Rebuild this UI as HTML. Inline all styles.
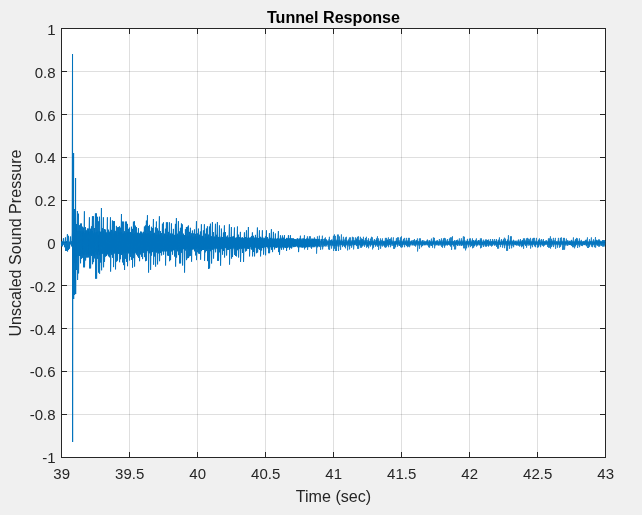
<!DOCTYPE html>
<html><head><meta charset="utf-8"><title>Tunnel Response</title>
<style>
html,body{margin:0;padding:0;background:#f0f0f0;overflow:hidden}
svg{display:block;font-family:"Liberation Sans",Arial,Helvetica,sans-serif}
.tk{font-size:15.0px;fill:#262626}
.lb{font-size:16.13px;fill:#262626}
.tt{font-size:16.13px;font-weight:bold;fill:#000}
</style></head><body>
<svg width="642" height="515" viewBox="0 0 642 515">
<rect x="0" y="0" width="642" height="515" fill="#f0f0f0"/>
<rect x="61.5" y="28.5" width="544.0" height="429.0" fill="#fff"/>
<path d="M129.5 28.5V457.5M197.5 28.5V457.5M265.5 28.5V457.5M333.5 28.5V457.5M401.5 28.5V457.5M469.5 28.5V457.5M537.5 28.5V457.5" stroke="#262626" stroke-opacity="0.15" stroke-width="1" fill="none" shape-rendering="crispEdges"/>
<path d="M61.5 71.5H605.5M61.5 114.5H605.5M61.5 157.5H605.5M61.5 200.5H605.5M61.5 242.5H605.5M61.5 285.5H605.5M61.5 328.5H605.5M61.5 371.5H605.5M61.5 414.5H605.5" stroke="#262626" stroke-opacity="0.15" stroke-width="1" fill="none" shape-rendering="crispEdges"/>
<path d="M129.5 457.5v-5.5M129.5 28.5v5.5M197.5 457.5v-5.5M197.5 28.5v5.5M265.5 457.5v-5.5M265.5 28.5v5.5M333.5 457.5v-5.5M333.5 28.5v5.5M401.5 457.5v-5.5M401.5 28.5v5.5M469.5 457.5v-5.5M469.5 28.5v5.5M537.5 457.5v-5.5M537.5 28.5v5.5M61.5 71.5h5.5M605.5 71.5h-5.5M61.5 114.5h5.5M605.5 114.5h-5.5M61.5 157.5h5.5M605.5 157.5h-5.5M61.5 200.5h5.5M605.5 200.5h-5.5M61.5 242.5h5.5M605.5 242.5h-5.5M61.5 285.5h5.5M605.5 285.5h-5.5M61.5 328.5h5.5M605.5 328.5h-5.5M61.5 371.5h5.5M605.5 371.5h-5.5M61.5 414.5h5.5M605.5 414.5h-5.5" stroke="#262626" stroke-width="1" fill="none" shape-rendering="crispEdges"/>
<rect x="61.5" y="28.5" width="544.0" height="429.0" fill="none" stroke="#262626" stroke-width="1" shape-rendering="crispEdges"/>
<path d="M61.50 241.4L61.58 246.2L62.46 241.4L62.54 246.3L63.47 238.2L63.53 244.7L64.42 241.6L64.56 247.2L65.45 237.4L65.56 250.9L66.43 241.1L66.54 250.9L67.41 234.2L67.55 251.5L68.45 235.8L68.53 249.9L69.47 241.7L69.53 248.7L70.44 236.5L70.56 244.4L71.45 241.3L71.59 246.4L72.15 233.0L72.50 54.0L72.60 442.0L72.80 231.0L72.95 258.0L73.20 213.0L73.35 273.0L73.55 153.0L73.65 299.0L73.85 218.0L73.95 263.0L74.45 209.0L74.58 295.0L75.20 228.0L75.35 283.0L75.55 178.0L75.65 294.0L75.85 228.0L75.95 263.0L76.47 224.0L76.55 270.0L77.41 211.0L77.58 280.0L78.44 213.7L78.56 273.4L79.45 225.2L79.55 256.0L80.46 223.6L80.54 263.3L81.45 223.5L81.56 258.8L82.43 226.7L82.54 257.8L83.44 227.6L83.54 267.3L84.41 211.3L84.54 267.3L85.45 227.1L85.59 260.5L86.44 230.3L86.54 257.5L87.42 228.5L87.59 257.5L88.45 228.6L88.55 257.4L89.43 217.3L89.54 268.4L90.46 228.7L90.58 268.4L91.46 226.3L91.56 256.0L92.46 216.2L92.57 264.2L93.43 216.2L93.56 262.1L94.46 228.0L94.54 258.4L95.44 213.4L95.54 278.7L96.46 213.4L96.59 278.7L97.41 216.8L97.57 258.8L98.42 221.3L98.56 272.6L99.44 216.7L99.58 273.8L100.43 232.0L100.56 262.5L101.45 208.0L101.58 270.3L102.46 228.2L102.58 253.6L103.42 217.3L103.56 267.3L104.46 229.0L104.53 261.9L105.44 229.6L105.57 256.7L106.45 232.5L106.58 256.0L107.42 217.3L107.54 254.4L108.46 229.7L108.54 256.3L109.45 232.5L109.54 257.3L110.47 217.3L110.58 271.6L111.43 229.9L111.57 254.8L112.43 220.5L112.56 257.8L113.42 221.2L113.55 267.1L114.46 221.1L114.57 253.5L115.42 230.9L115.53 269.4L116.42 225.9L116.58 261.7L117.45 227.3L117.53 260.6L118.47 227.0L118.57 253.9L119.46 226.3L119.59 262.2L120.47 227.7L120.54 259.2L121.47 214.0L121.55 255.0L122.43 221.6L122.55 262.4L123.41 221.6L123.57 265.1L124.45 231.2L124.55 270.0L125.41 221.6L125.54 258.8L126.47 221.6L126.56 261.9L127.43 223.9L127.53 266.2L128.43 228.9L128.54 252.9L129.45 227.6L129.56 260.5L130.45 232.1L130.56 256.8L131.46 226.7L131.58 259.8L132.42 228.9L132.53 267.7L133.44 221.7L133.57 258.1L134.43 221.2L134.56 266.6L135.43 225.7L135.53 251.8L136.46 227.1L136.53 254.6L137.45 232.9L137.55 256.3L138.44 228.2L138.56 257.9L139.43 234.3L139.56 261.2L140.47 231.6L140.59 254.5L141.43 231.7L141.58 256.8L142.42 234.6L142.58 259.1L143.41 231.8L143.53 252.4L144.43 226.5L144.58 257.1L145.47 225.4L145.54 261.2L146.41 220.6L146.55 260.7L147.46 215.2L147.55 251.1L148.47 226.1L148.56 272.6L149.46 224.9L149.59 253.3L150.44 230.9L150.58 269.9L151.44 226.8L151.55 255.6L152.44 228.1L152.57 252.1L153.44 219.0L153.58 264.7L154.44 232.8L154.54 256.5L155.43 227.4L155.58 266.6L156.43 221.5L156.58 252.6L157.45 228.4L157.56 264.4L158.45 230.7L158.56 253.4L159.42 216.3L159.56 261.2L160.47 231.1L160.59 253.0L161.42 233.0L161.59 255.4L162.44 223.7L162.53 251.4L163.47 222.3L163.57 254.7L164.43 233.6L164.54 250.5L165.43 228.7L165.55 265.5L166.41 222.3L166.55 251.2L167.46 222.3L167.57 255.5L168.45 231.9L168.57 255.9L169.42 222.3L169.58 261.2L170.47 233.5L170.55 260.1L171.46 223.4L171.55 250.9L172.47 233.7L172.54 254.7L173.42 228.9L173.56 250.3L174.42 234.9L174.57 256.5L175.46 223.9L175.59 266.6L176.41 218.1L176.56 257.6L177.42 233.7L177.57 251.3L178.43 221.2L178.57 255.1L179.41 231.4L179.53 263.4L180.45 227.8L180.58 263.4L181.45 223.4L181.57 252.8L182.41 224.4L182.58 265.5L183.44 233.7L183.59 249.1L184.46 235.1L184.54 272.6L185.43 229.2L185.55 250.5L186.43 227.0L186.54 260.1L187.46 226.7L187.59 258.3L188.44 225.5L188.57 258.0L189.46 231.9L189.55 256.3L190.42 227.8L190.54 255.8L191.41 233.3L191.55 261.7L192.42 230.5L192.56 249.1L193.42 233.4L193.54 248.8L194.44 229.4L194.54 251.3L195.41 233.9L195.55 255.4L196.47 221.2L196.53 260.1L197.42 233.4L197.55 252.2L198.45 228.6L198.54 253.5L199.44 234.7L199.53 253.8L200.41 231.5L200.58 259.7L201.42 224.3L201.53 251.1L202.46 235.9L202.54 250.0L203.42 230.4L203.55 249.9L204.42 224.3L204.56 260.8L205.43 233.7L205.57 252.3L206.45 228.5L206.57 251.0L207.43 226.3L207.54 261.1L208.46 234.6L208.58 269.0L209.43 226.5L209.56 268.4L210.44 223.7L210.56 251.2L211.42 236.3L211.58 263.5L212.43 222.1L212.53 249.7L213.41 232.1L213.54 258.6L214.41 237.0L214.53 248.1L215.47 223.8L215.58 252.3L216.42 234.8L216.58 248.0L217.42 222.1L217.56 260.8L218.43 237.6L218.53 260.8L219.46 225.4L219.54 252.3L220.47 238.0L220.56 265.7L221.43 228.6L221.59 248.5L222.43 237.1L222.56 254.7L223.45 232.5L223.54 251.0L224.44 225.4L224.55 257.5L225.44 232.0L225.55 247.5L226.43 236.7L226.58 255.5L227.41 235.5L227.54 249.9L228.45 237.7L228.56 249.9L229.42 224.3L229.53 264.6L230.45 237.0L230.57 249.0L231.43 227.0L231.56 258.6L232.43 236.6L232.53 257.0L233.41 236.2L233.57 247.1L234.46 227.5L234.59 254.9L235.43 238.1L235.59 256.0L236.43 238.7L236.54 256.4L237.46 226.5L237.55 250.2L238.46 234.7L238.57 257.5L239.43 237.7L239.57 248.8L240.41 231.9L240.54 261.9L241.42 238.7L241.57 248.8L242.46 237.4L242.58 253.0L243.42 239.0L243.54 261.9L244.44 232.4L244.54 248.3L245.43 237.3L245.59 251.5L246.46 230.3L246.57 250.8L247.45 237.8L247.56 248.7L248.42 227.0L248.53 248.7L249.43 237.9L249.54 256.4L250.43 237.4L250.54 246.6L251.46 236.1L251.57 249.6L252.43 232.4L252.55 256.4L253.42 235.8L253.55 252.0L254.47 238.2L254.54 256.4L255.46 234.9L255.56 246.4L256.45 238.8L256.55 253.2L257.43 227.5L257.58 252.5L258.42 238.1L258.55 248.8L259.47 230.3L259.54 249.9L260.44 236.8L260.54 256.4L261.43 239.6L261.58 250.5L262.41 230.3L262.55 247.4L263.45 239.9L263.57 254.6L264.44 238.3L264.55 246.6L265.46 236.4L265.57 255.3L266.44 230.3L266.57 246.6L267.43 237.0L267.56 246.4L268.45 240.0L268.59 253.2L269.45 233.1L269.56 253.2L270.47 238.2L270.54 246.8L271.43 229.2L271.55 249.8L272.44 239.1L272.54 252.1L273.44 231.9L273.54 246.7L274.43 240.1L274.57 249.4L275.43 233.5L275.58 246.4L276.41 239.5L276.57 248.0L277.45 239.2L277.55 246.7L278.41 231.1L278.58 252.1L279.45 238.7L279.53 254.8L280.46 235.3L280.54 246.1L281.45 238.8L281.58 249.8L282.45 235.5L282.54 247.0L283.44 237.7L283.54 249.5L284.46 235.2L284.56 246.5L285.42 239.2L285.55 247.9L286.46 237.9L286.54 251.0L287.43 239.1L287.58 247.2L288.44 235.2L288.56 246.3L289.44 239.0L289.55 249.6L290.43 235.2L290.55 247.3L291.45 239.5L291.58 248.5L292.45 239.1L292.57 245.3L293.41 239.0L293.57 246.8L294.46 239.8L294.57 246.6L295.42 239.5L295.53 246.2L296.46 239.9L296.58 246.1L297.44 239.6L297.55 246.6L298.45 239.8L298.56 252.1L299.42 238.8L299.53 246.6L300.43 235.7" stroke="#0072bd" stroke-width="0.9" stroke-linejoin="bevel" fill="none"/>
<path d="M300.43 235.7L300.57 246.4L301.45 240.7L301.58 245.6L302.43 240.9L302.57 247.4L303.44 238.6L303.54 245.1L304.47 235.2L304.54 249.4L305.43 240.2L305.53 245.7L306.45 239.9L306.55 246.9L307.43 236.3L307.57 249.9L308.43 239.7L308.56 245.3L309.46 236.3L309.58 247.0L310.43 236.3L310.54 245.7L311.43 239.9L311.53 248.8L312.44 238.8L312.54 245.7L313.44 240.1L313.57 247.2L314.43 237.4L314.56 245.0L315.46 240.5L315.55 246.2L316.43 239.1L316.56 253.7L317.43 236.3L317.58 247.4L318.46 240.0L318.55 245.8L319.41 235.7L319.55 245.2L320.47 240.7L320.57 249.9L321.44 239.2L321.54 244.7L322.42 235.7L322.59 249.4L323.46 241.4L323.57 244.6L324.45 238.5L324.55 245.8L325.43 237.4L325.55 245.4L326.44 239.5L326.58 245.5L327.46 241.4L327.59 244.5L328.44 241.1L328.55 249.4L329.42 236.8L329.55 249.9L330.46 240.8L330.55 244.9L331.43 239.8L331.54 248.6L332.46 241.1L332.54 244.9L333.47 235.8L333.59 251.0L334.46 234.4L334.59 248.7L335.44 235.9L335.56 251.0L336.43 240.8L336.53 251.0L337.46 234.6L337.56 244.5L338.42 234.6L338.53 251.0L339.45 236.4L339.57 244.4L340.41 241.3L340.57 249.9L341.43 234.4L341.58 244.8L342.46 241.4L342.55 247.1L343.42 236.8L343.55 244.9L344.43 241.9L344.54 247.1L345.43 237.5L345.54 248.3L346.41 236.8L346.59 244.5L347.43 241.7L347.58 250.4L348.44 239.5L348.57 244.3L349.43 237.5L349.56 249.4L350.42 237.4L350.58 244.8L351.42 241.7L351.58 247.8L352.43 236.8L352.59 244.4L353.43 237.4L353.58 249.4L354.46 241.2L354.53 245.0L355.43 237.4L355.56 244.3L356.47 238.6L356.58 246.1L357.46 236.8L357.58 248.8L358.46 236.3L358.57 248.8L359.43 241.4L359.56 244.8L360.43 236.8L360.57 247.7L361.44 238.4L361.56 247.7L362.43 239.0L362.57 246.4L363.45 236.8L363.54 244.3L364.41 241.6L364.55 246.8L365.46 238.0L365.54 244.4L366.43 236.8L366.58 247.7L367.45 241.9L367.56 246.7L368.47 238.3L368.57 248.3L369.46 241.6L369.56 244.1L370.46 238.7L370.53 246.6L371.47 236.8L371.56 244.5L372.46 237.4L372.57 249.4L373.45 241.6L373.55 247.7L374.44 239.0L374.54 244.3L375.43 241.9L375.58 246.7L376.46 238.4L376.59 244.8L377.47 236.3L377.58 246.8L378.43 238.4L378.55 249.9L379.43 241.7L379.56 244.5L380.47 238.4L380.56 248.8L381.43 241.5L381.55 244.2L382.45 238.4L382.55 246.5L383.46 241.3L383.54 244.7L384.43 241.7L384.59 247.2L385.41 237.9L385.53 247.7L386.43 237.9L386.54 247.2L387.44 239.6L387.55 244.5L388.42 237.4L388.58 247.2L389.46 239.0L389.53 244.3L390.45 238.7L390.55 247.2L391.43 237.4L391.56 244.1L392.41 242.0L392.54 244.4L393.42 237.4L393.57 248.8L394.44 242.1L394.55 248.8L395.43 241.3L395.58 247.3L396.42 238.2L396.59 244.0L397.44 237.4L397.55 246.7L398.46 237.4L398.55 243.9L399.45 242.0L399.55 245.9L400.45 237.4L400.54 247.2L401.44 236.3L401.56 247.7L402.42 241.9L402.55 247.2L403.46 238.9L403.57 244.2L404.45 237.9L404.55 247.2L405.44 241.7L405.55 244.5L406.41 237.9L406.57 246.1L407.42 241.6L407.58 247.2L408.41 237.9L408.55 246.5L409.42 237.9L409.57 247.2L410.42 241.9L410.55 244.4L411.47 240.8L411.55 243.9L412.43 242.1L412.57 245.1L413.44 240.3L413.54 244.4L414.47 239.0L414.54 245.7L415.47 241.7L415.57 246.6L416.45 240.1L416.55 244.1L417.44 238.4L417.55 251.5L418.45 241.8L418.54 244.2L419.46 238.4L419.53 248.8L420.44 238.4L420.59 244.4L421.42 241.8L421.55 247.2L422.42 240.3L422.54 245.8L423.46 241.8L423.54 244.1L424.45 241.5L424.56 245.2L425.42 241.6L425.53 244.6L426.43 241.5L426.56 244.2L427.41 239.5L427.59 245.4L428.42 242.1L428.56 247.2L429.43 240.2L429.54 247.7L430.42 241.7L430.53 244.3L431.46 238.6L431.58 245.9L432.43 241.9L432.55 247.7L433.41 237.4L433.54 244.1L434.47 237.9L434.56 248.3L435.45 242.0L435.54 244.3L436.42 240.6L436.57 244.9L437.43 240.2L437.57 244.4L438.43 241.9L438.53 245.6L439.42 239.0L439.55 244.3L440.46 241.5L440.53 244.5L441.47 238.4L441.56 246.8L442.46 241.9L442.54 247.7L443.44 238.4L443.59 244.3L444.44 237.9L444.55 247.7L445.42 238.4L445.58 245.4L446.42 242.0L446.56 244.4L447.46 239.0L447.54 245.4L448.46 241.8L448.55 244.5L449.46 238.5L449.53 245.4L450.43 237.4L450.53 246.6L451.43 237.4L451.57 249.9L452.47 236.3L452.58 244.5L453.42 241.6L453.55 246.4L454.46 240.1L454.55 249.4L455.47 241.9L455.57 249.4L456.46 240.2L456.56 244.4L457.45 239.7L457.55 246.0L458.47 241.6L458.56 244.2L459.42 238.4L459.58 245.3L460.42 241.9L460.59 244.0L461.42 238.3L461.58 246.0L462.43 241.9L462.56 244.5L463.42 236.3L463.58 248.3L464.45 236.8L464.54 248.3L465.44 242.1L465.56 250.4L466.46 241.4L466.58 248.3L467.45 238.9L467.55 244.0L468.43 241.6L468.57 247.3L469.47 238.6L469.54 244.2L470.44 238.4L470.56 247.1L471.45 242.0L471.56 246.0L472.47 238.4L472.57 248.3L473.43 240.2L473.58 247.7L474.46 241.5L474.56 246.2L475.44 239.9L475.58 243.9L476.42 238.4L476.57 246.6L477.41 241.7L477.55 245.4L478.46 240.0L478.53 243.9L479.42 241.7L479.57 245.4L480.43 238.4L480.56 248.3L481.47 238.4L481.56 247.7L482.42 242.1L482.54 244.4L483.44 239.7L483.57 247.0L484.46 241.7L484.58 244.1L485.44 239.5L485.55 246.6L486.43 239.5L486.56 246.6L487.46 240.2L487.54 243.9L488.42 239.5L488.56 246.6L489.46 241.6L489.58 244.3L490.44 239.0L490.58 245.7L491.42 241.5L491.58 246.6L492.46 239.0L492.58 245.8L493.41 241.9L493.53 244.1L494.43 239.0L494.56 245.5L495.46 241.5L495.58 244.5L496.42 239.0L496.53 246.9L497.42 242.0L497.53 248.6L498.46 239.7L498.58 248.6L499.46 237.4L499.54 244.5L500.46 242.1L500.56 247.1L501.47 239.1L501.53 244.3L502.42 241.6L502.57 247.7L503.46 239.3L503.54 243.9L504.42 237.7L504.57 248.2L505.47 238.7L505.53 243.9L506.43 241.5L506.54 250.8L507.44 239.5L507.55 250.8L508.45 235.2L508.57 244.1L509.44 241.8L509.56 248.8L510.46 236.3L510.58 243.9L511.45 236.3L511.59 248.3L512.42 241.7L512.57 244.0L513.45 239.8L513.56 247.2L514.45 241.8L514.59 244.2L515.47 240.8L515.55 245.1L516.43 241.6L516.58 245.4L517.47 241.9L517.56 244.3L518.45 239.5L518.54 245.7L519.43 242.0L519.58 246.6L520.43 239.0L520.55 243.9L521.45 241.8L521.55 247.2L522.41 240.0L522.54 246.3L523.45 238.4L523.56 248.8L524.44 238.4L524.53 244.0L525.46 241.6L525.54 246.0L526.42 238.4L526.56 247.7L527.45 237.9L527.55 244.3L528.42 238.7L528.58 244.2L529.45 239.4L529.55 244.5L530.46 237.9L530.55 248.6L531.45 241.8L531.56 244.4L532.42 238.6L532.53 247.2L533.45 237.9L533.55 243.9L534.46 237.9L534.54 246.3L535.44 242.1L535.58 247.2L536.44 237.9L536.53 244.2L537.46 241.9L537.58 247.7L538.47 239.7L538.55 247.2L539.44 238.4L539.56 244.1L540.46 242.1L540.58 247.2L541.41 239.0L541.56 244.0L542.42 241.8L542.59 245.8L543.41 239.0L543.53 246.6L544.42 241.6L544.54 245.5L545.41 241.7L545.56 244.4L546.41 240.4L546.57 243.9L547.44 242.0L547.54 246.9L548.44 238.4L548.54 247.7L549.43 238.4L549.57 247.7L550.45 236.3L550.54 248.6L551.46 238.8L551.58 247.0L552.47 241.6L552.57 244.0L553.42 237.9L553.55 247.1L554.43 241.7L554.55 243.9L555.42 237.9L555.59 248.8L556.46 241.5L556.56 244.0L557.46 242.1L557.57 247.7L558.43 237.9L558.58 243.9L559.44 242.0L559.54 247.7L560.41 237.9L560.55 246.8L561.42 237.4L561.58 244.0L562.45 241.6L562.54 249.9L563.44 237.9L563.53 249.7L564.45 237.9L564.54 249.7L565.42 241.9L565.59 244.3L566.42 238.6L566.58 244.2L567.42 240.4L567.56 245.8L568.46 241.9L568.57 244.1L569.46 241.1L569.57 245.0L570.44 241.6L570.57 245.0L571.42 239.9L571.58 245.8L572.45 241.6L572.59 247.2L573.45 237.4L573.57 247.2L574.41 241.9L574.59 248.3L575.46 239.1L575.58 246.4L576.47 237.9L576.58 244.5L577.44 238.4L577.58 248.0L578.46 241.6L578.54 244.0L579.46 238.4L579.56 247.2L580.45 241.8L580.58 244.3L581.41 239.9L581.58 245.9L582.42 241.6L582.56 246.1L583.45 241.4L583.55 244.3L584.45 241.6L584.58 245.1L585.44 239.9L585.53 244.4L586.43 239.7L586.54 246.3L587.46 237.4L587.57 248.0L588.45 242.1L588.56 248.0L589.46 239.2L589.54 246.8L590.44 241.5L590.59 244.0L591.43 237.4L591.53 246.6L592.44 242.1L592.57 247.2L593.47 239.3L593.58 244.4L594.43 242.1L594.55 247.2L595.47 237.1L595.58 247.7L596.46 239.8L596.58 244.3L597.41 240.5L597.55 245.7L598.47 239.5L598.58 246.6L599.45 239.5L599.56 246.6L600.43 241.0L600.56 244.3L601.47 241.5L601.57 245.9L602.42 240.1L602.56 246.6L603.46 240.1L603.54 246.6L604.43 240.1L604.56 246.6" stroke="#0072bd" stroke-width="0.7" stroke-linejoin="bevel" fill="none"/>
<path d="M76.12 231.3L76.38 255.8L76.62 231.8L76.88 256.1L77.12 230.9L77.38 253.1L77.62 231.3L77.88 252.7L78.12 230.4L78.38 253.6L78.62 231.7L78.88 255.8L79.12 232.8L79.38 254.6L79.62 233.0L79.88 252.8L80.12 230.9L80.38 253.5L80.62 234.2L80.88 255.7L81.12 231.8L81.38 253.6L81.62 232.8L81.88 252.0L82.12 230.6L82.38 251.5L82.62 233.4L82.88 253.8L83.12 231.7L83.38 255.2L83.62 232.8L83.88 251.6L84.12 233.0L84.38 254.6L84.62 233.0L84.88 255.0L85.12 230.9L85.38 251.7L85.62 232.7L85.88 251.2L86.12 232.4L86.38 254.2L86.62 233.4L86.88 253.9L87.12 233.2L87.38 254.2L87.62 230.8L87.88 254.2L88.12 234.5L88.38 253.9L88.62 231.1L88.88 254.9L89.12 231.7L89.38 255.3L89.62 234.2L89.88 251.9L90.12 231.6L90.38 254.4L90.62 234.4L90.88 252.9L91.12 231.1L91.38 254.6L91.62 231.1L91.88 252.8L92.12 232.7L92.38 252.5L92.62 231.1L92.88 254.2L93.12 234.4L93.38 254.3L93.62 233.2L93.88 255.2L94.12 233.8L94.38 251.9L94.62 232.0L94.88 255.1L95.12 234.8L95.38 250.9L95.62 232.5L95.88 252.0L96.12 233.2L96.38 251.8L96.62 231.8L96.88 254.4L97.12 232.1L97.38 254.7L97.62 234.5L97.88 251.9L98.12 231.4L98.38 251.9L98.62 234.6L98.88 252.1L99.12 235.0L99.38 255.1L99.62 231.0L99.88 252.5L100.12 233.9L100.38 253.7L100.62 232.0L100.88 252.5L101.12 231.3L101.38 253.9L101.62 231.8L101.88 253.4L102.12 233.0L102.38 253.4L102.62 231.3L102.88 252.1L103.12 233.7L103.38 253.2L103.62 231.4L103.88 251.0L104.12 235.2L104.38 252.9L104.62 234.8L104.88 254.9L105.12 234.4L105.38 252.6L105.62 232.5L105.88 252.6L106.12 233.2L106.38 254.9L106.62 232.8L106.88 253.2L107.12 235.3L107.38 252.9L107.62 233.4L107.88 252.7L108.12 234.2L108.38 254.6L108.62 231.3L108.88 252.9L109.12 234.5L109.38 252.9L109.62 232.5L109.88 251.8L110.12 231.3L110.38 253.0L110.62 232.4L110.88 251.5L111.12 236.9L111.38 254.0L111.62 236.9L111.88 252.1L112.12 231.5L112.38 251.6L112.62 235.2L112.88 250.9L113.12 233.9L113.38 254.5L113.62 233.8L113.88 253.3L114.12 231.8L114.38 250.6L114.62 234.0L114.88 252.7L115.12 232.8L115.38 251.5L115.62 232.9L115.88 252.8L116.12 233.8L116.38 254.4L116.62 231.9L116.88 253.0L117.12 234.9L117.38 252.9L117.62 235.2L117.88 251.0L118.12 232.5L118.38 250.6L118.62 231.9L118.88 250.4L119.12 232.5L119.38 253.6L119.62 232.6L119.88 253.5L120.12 234.9L120.38 253.4L120.62 232.3L120.88 251.5L121.12 232.5L121.38 250.3L121.62 232.7L121.88 252.8L122.12 235.7L122.38 251.7L122.62 234.1L122.88 253.6L123.12 233.2L123.38 253.2L123.62 233.6L123.88 252.5L124.12 233.3L124.38 252.5L124.62 234.6L124.88 251.6L125.12 235.4L125.38 253.1L125.62 233.1L125.88 251.8L126.12 235.8L126.38 253.0L126.62 232.8L126.88 251.5L127.12 232.5L127.38 251.5L127.62 232.3L127.88 252.0L128.12 235.6L128.38 251.4L128.62 234.7L128.88 253.7L129.12 232.1L129.38 253.4L129.62 233.9L129.88 251.0L130.12 234.4L130.38 251.4L130.62 233.4L130.88 253.8L131.12 235.3L131.38 251.1L131.62 232.8L131.88 252.0L132.12 233.0L132.38 252.8L132.62 235.4L132.88 253.5L133.12 234.4L133.38 250.4L133.62 235.7L133.88 252.8L134.12 234.1L134.38 250.0L134.62 233.0L134.88 253.7L135.12 235.8L135.38 252.9L135.62 235.4L135.88 252.1L136.12 232.7L136.38 253.1L136.62 234.9L136.88 252.0L137.12 234.5L137.38 252.7L137.62 232.8L137.88 249.8L138.12 235.5L138.38 251.1L138.62 232.9L138.88 250.1L139.12 233.0L139.38 253.3L139.62 234.6L139.88 251.9L140.12 232.9L140.38 252.3L140.62 232.9L140.88 252.5L141.12 234.2L141.38 252.3L141.62 233.1L141.88 250.3L142.12 234.0L142.38 252.8L142.62 232.7L142.88 252.3L143.12 234.7L143.38 252.8L143.62 234.2L143.88 250.0L144.12 234.6L144.38 250.9L144.62 233.9L144.88 252.5L145.12 233.2L145.38 249.5L145.62 234.4L145.88 252.2L146.12 235.7L146.38 252.2L146.62 234.2L146.88 250.3L147.12 233.3L147.38 250.1L147.62 236.6L147.88 251.1L148.12 235.2L148.38 252.8L148.62 233.1L148.88 252.2L149.12 236.5L149.38 251.3L149.62 234.6L149.88 250.8L150.12 236.6L150.38 251.0L150.62 235.0L150.88 252.7L151.12 234.0L151.38 252.4L151.62 236.4L151.88 249.8L152.12 234.9L152.38 251.4L152.62 235.6L152.88 251.0L153.12 233.4L153.38 250.5L153.62 233.7L153.88 249.5L154.12 236.7L154.38 251.4L154.62 236.5L154.88 251.1L155.12 234.7L155.38 251.9L155.62 235.0L155.88 251.6L156.12 234.6L156.38 251.2L156.62 235.3L156.88 251.4L157.12 235.0L157.38 249.8L157.62 236.3L157.88 250.8L158.12 234.1L158.38 249.7L158.62 234.5L158.88 251.6L159.12 234.7L159.38 252.3L159.62 234.9L159.88 249.3L160.12 235.3L160.38 251.3L160.62 236.8L160.88 249.8L161.12 234.1L161.38 252.2L161.62 236.8L161.88 249.8L162.12 236.1L162.38 249.9L162.62 235.5L162.88 250.8L163.12 236.0L163.38 249.5L163.62 236.9L163.88 249.0L164.12 234.9L164.38 251.4L164.62 236.5L164.88 250.1L165.12 234.0L165.38 251.8L165.62 235.3L165.88 249.5L166.12 234.8L166.38 251.2L166.62 237.0L166.88 248.8L167.12 237.1L167.38 251.1L167.62 235.1L167.88 249.1L168.12 234.4L168.38 251.3L168.62 237.2L168.88 250.7L169.12 236.4L169.38 249.5L169.62 236.9L169.88 251.2L170.12 234.7L170.38 248.7L170.62 236.2L170.88 249.1L171.12 236.9L171.38 251.6L171.62 235.3L171.88 250.1L172.12 235.5L172.38 250.9L172.62 235.1L172.88 249.6L173.12 235.0L173.38 248.5L173.62 235.8L173.88 249.6L174.12 235.8L174.38 249.6L174.62 235.0L174.88 248.5L175.12 235.2L175.38 249.2L175.62 236.5L175.88 248.7L176.12 237.1L176.38 248.5L176.62 235.0L176.88 249.7L177.12 236.6L177.38 248.6L177.62 237.3L177.88 249.8L178.12 237.0L178.38 248.5L178.62 235.7L178.88 249.1L179.12 234.9L179.38 251.1L179.62 236.1L179.88 250.6L180.12 235.9L180.38 250.2L180.62 237.1L180.88 250.5L181.12 235.1L181.38 250.3L181.62 236.5L181.88 248.6L182.12 235.0L182.38 250.0L182.62 236.0L182.88 248.7L183.12 235.1L183.38 249.0L183.62 236.7L183.88 249.1L184.12 235.1L184.38 248.4L184.62 235.4L184.88 250.0L185.12 236.1L185.38 250.0L185.62 235.8L185.88 248.5L186.12 237.8L186.38 248.2L186.62 236.8L186.88 248.3L187.12 235.9L187.38 249.5L187.62 237.8L187.88 248.2L188.12 236.4L188.38 250.0L188.62 236.2L188.88 249.4L189.12 235.6L189.38 250.5L189.62 236.8L189.88 250.5L190.12 237.4L190.38 249.0L190.62 236.1L190.88 248.4L191.12 235.4L191.38 250.3L191.62 235.7L191.88 249.1L192.12 237.3L192.38 248.4L192.62 237.1L192.88 250.0L193.12 237.9L193.38 248.4L193.62 237.2L193.88 248.7L194.12 236.5L194.38 250.1L194.62 238.0L194.88 248.0L195.12 236.2L195.38 249.5L195.62 237.4L195.88 248.4L196.12 238.2L196.38 249.0L196.62 236.1L196.88 247.8L197.12 237.7L197.38 247.9L197.62 236.8L197.88 247.8L198.12 237.6L198.38 248.3L198.62 235.9L198.88 250.1L199.12 237.5L199.38 249.0L199.62 238.0L199.88 248.6L200.12 236.5L200.38 248.5L200.62 238.0L200.88 249.3L201.12 236.2L201.38 249.9L201.62 238.0L201.88 249.5L202.12 236.1L202.38 247.6L202.62 236.8L202.88 249.8L203.12 236.5L203.38 249.7L203.62 237.9L203.88 249.8L204.12 237.8L204.38 247.5L204.62 238.3L204.88 248.5L205.12 237.6L205.38 248.2L205.62 237.3L205.88 248.7L206.12 238.3L206.38 248.9L206.62 237.3L206.88 248.5L207.12 237.3L207.38 249.8L207.62 236.2L207.88 248.5L208.12 238.4L208.38 247.9L208.62 237.9L208.88 248.6L209.12 238.0L209.38 248.3L209.62 238.4L209.88 248.7L210.12 237.4L210.38 247.9L210.62 237.1L210.88 249.9L211.12 236.3L211.38 248.3L211.62 238.5L211.88 248.5L212.12 238.5L212.38 248.7L212.62 237.4L212.88 248.2L213.12 238.4L213.38 248.5L213.62 237.5L213.88 249.7L214.12 236.7L214.38 247.7L214.62 236.7L214.88 248.9L215.12 238.4L215.38 248.0L215.62 236.7L215.88 247.5L216.12 237.0L216.38 248.5L216.62 238.1L216.88 248.6L217.12 237.2L217.38 249.3L217.62 236.5L217.88 248.9L218.12 237.0L218.38 247.4L218.62 237.1L218.88 249.2L219.12 237.1L219.38 247.6L219.62 237.8L219.88 248.2L220.12 236.6L220.38 248.0L220.62 238.6L220.88 249.3L221.12 237.2L221.38 248.8L221.62 237.1L221.88 247.3L222.12 237.7L222.38 249.0L222.62 237.7L222.88 249.3L223.12 238.1L223.38 249.5L223.62 236.8L223.88 247.9L224.12 238.1L224.38 247.7L224.62 238.7L224.88 247.2L225.12 238.4L225.38 248.0L225.62 237.7L225.88 247.3L226.12 238.0L226.38 249.2L226.62 237.1L226.88 248.8L227.12 238.4L227.38 249.3L227.62 238.4L227.88 248.3L228.12 238.1L228.38 249.0L228.62 238.2L228.88 249.4L229.12 237.1L229.38 247.2L229.62 238.5L229.88 248.1L230.12 237.2L230.38 247.7L230.62 237.1L230.88 247.7L231.12 237.0L231.38 247.4L231.62 237.0L231.88 248.5L232.12 237.8L232.38 248.3L232.62 238.0L232.88 247.7L233.12 237.6L233.38 247.7L233.62 238.0L233.88 249.2L234.12 236.7L234.38 247.4L234.62 238.2L234.88 248.8L235.12 238.6L235.38 248.0L235.62 238.8L235.88 248.9L236.12 237.2L236.38 247.6L236.62 237.7L236.88 247.5L237.12 238.7L237.38 248.7L237.62 236.8L237.88 248.6L238.12 238.8L238.38 248.0L238.62 237.2L238.88 249.2L239.12 237.0L239.38 247.1L239.62 237.3L239.88 247.4L240.12 238.7L240.38 247.1L240.62 238.2L240.88 247.6L241.12 237.6L241.38 248.5L241.62 237.8L241.88 247.9L242.12 238.0L242.38 248.1L242.62 237.6L242.88 247.7L243.12 237.9L243.38 248.2L243.62 238.1L243.88 248.2L244.12 238.5L244.38 246.6L244.62 237.2L244.88 246.6L245.12 237.7L245.38 247.8L245.62 237.0L245.88 247.4L246.12 237.3L246.38 248.4L246.62 239.0L246.88 248.4L247.12 239.0L247.38 247.6L247.62 239.0L247.88 247.8L248.12 238.4L248.38 248.5L248.62 237.1L248.88 248.8L249.12 238.2L249.38 247.5L249.62 237.9L249.88 248.9L250.12 239.0L250.38 246.6L250.62 238.0L250.88 246.6L251.12 238.9L251.38 248.4L251.62 238.4L251.88 248.3L252.12 238.4L252.38 247.8L252.62 238.4L252.88 248.9L253.12 237.9L253.38 248.6L253.62 239.0L253.88 247.8L254.12 237.4L254.38 248.1L254.62 237.9L254.88 247.7L255.12 238.3L255.38 247.4L255.62 238.1L255.88 247.5L256.12 237.7L256.38 247.4L256.62 237.6L256.88 248.2L257.12 237.9L257.38 248.3L257.62 238.5L257.88 246.9L258.12 238.0L258.38 247.3L258.62 238.2L258.88 247.1L259.12 238.8L259.38 247.9L259.62 237.7L259.88 247.4L260.12 237.6L260.38 248.0L260.62 239.0L260.88 246.8L261.12 238.4L261.38 248.0L261.62 237.8L261.88 246.7L262.12 237.5L262.38 247.9L262.62 238.5L262.88 247.8L263.12 239.3L263.38 248.2L263.62 237.7L263.88 246.8L264.12 238.9L264.38 246.9L264.62 239.1L264.88 247.7L265.12 237.8L265.38 247.1L265.62 239.4L265.88 246.7L266.12 239.3L266.38 247.0L266.62 238.5L266.88 246.7L267.12 238.7L267.38 247.1L267.62 237.9L267.88 248.3L268.12 238.8L268.38 248.4L268.62 238.9L268.88 247.1L269.12 239.4L269.38 246.6L269.62 237.5L269.88 246.8L270.12 237.8L270.38 247.2L270.62 238.5L270.88 246.8L271.12 238.3L271.38 248.5L271.62 237.9L271.88 248.0L272.12 238.4L272.38 247.3L272.62 238.9L272.88 246.5L273.12 238.9L273.38 246.6L273.62 238.6L273.88 246.6L274.12 239.2L274.38 248.0L274.62 239.0L274.88 247.4L275.12 238.0L275.38 247.7L275.62 237.9L275.88 247.4L276.12 239.0L276.38 246.5L276.62 239.0L276.88 246.9L277.12 238.4L277.38 247.3L277.62 238.4L277.88 247.4L278.12 238.6L278.38 247.1L278.62 239.5L278.88 246.9L279.12 239.6L279.38 247.4L279.62 239.2L279.88 247.8L280.12 238.7L280.38 246.8L280.62 239.3L280.88 248.3L281.12 237.7L281.38 248.1L281.62 239.4L281.88 246.5L282.12 238.8L282.38 247.0L282.62 238.3L282.88 247.7L283.12 238.3L283.38 247.9L283.62 238.9L283.88 247.3L284.12 239.1L284.38 247.7L284.62 239.1L284.88 246.9L285.12 239.1L285.38 246.8L285.62 239.3L285.88 247.5L286.12 239.2L286.38 246.4L286.62 239.1L286.88 247.8L287.12 238.3L287.38 247.9L287.62 238.4L287.88 247.2L288.12 239.1L288.38 246.4L288.62 238.5L288.88 247.5L289.12 238.9L289.38 246.4L289.62 238.2L289.88 247.2L290.12 238.9L290.38 247.7L290.62 238.0L290.88 247.0L291.12 238.4L291.38 247.3L291.62 238.3L291.88 247.6L292.12 239.2L292.38 246.3L292.62 238.3L292.88 246.4L293.12 238.4L293.38 246.5L293.62 238.4L293.88 247.2L294.12 239.0L294.38 246.3L294.62 239.0L294.88 246.3L295.12 239.5L295.38 246.6L295.62 239.5L295.88 246.6L296.12 239.5L296.38 246.1L296.62 239.5L296.88 246.1L297.12 238.5L297.38 246.2L297.62 238.2L297.88 247.4L298.12 239.5L298.38 247.4L298.62 239.5L298.88 247.7L299.12 238.7L299.38 246.6L299.62 239.4L299.88 246.6L300.12 238.4L300.38 247.2L300.62 239.2L300.88 247.2L301.12 239.1L301.38 247.1L301.62 239.7L301.88 247.7L302.12 238.2L302.38 247.4L302.62 239.2L302.88 246.5L303.12 239.6L303.38 247.5L303.62 238.6L303.88 246.8L304.12 239.6L304.38 247.4L304.62 238.6L304.88 247.7L305.12 239.1L305.38 247.5L305.62 239.1L305.88 247.4L306.12 239.9L306.38 246.9L306.62 238.6L306.88 247.2L307.12 238.3L307.38 247.0L307.62 239.5L307.88 247.2L308.12 238.6L308.38 247.1L308.62 238.9L308.88 246.1L309.12 240.1L309.38 246.3L309.62 239.5L309.88 247.2L310.12 239.7L310.38 246.0L310.62 240.0L310.88 247.6L311.12 239.7L311.38 246.4L311.62 238.6L311.88 247.5L312.12 239.6L312.38 246.9L312.62 239.5L312.88 246.3L313.12 238.6L313.38 245.9L313.62 239.0L313.88 247.1L314.12 238.9L314.38 246.7L314.62 238.7L314.88 247.2L315.12 239.2L315.38 245.9L315.62 238.8L315.88 246.1L316.12 240.0L316.38 246.3L316.62 239.4L316.88 246.3L317.12 239.5L317.38 246.2L317.62 239.9L317.88 246.9L318.12 239.2L318.38 245.8L318.62 238.9L318.88 246.0L319.12 239.8L319.38 246.9L319.62 239.0L319.88 247.2" stroke="#0072bd" stroke-width="0.7" stroke-linejoin="bevel" fill="none"/>
<path d="M320.95 239.0L321.05 246.4L321.95 239.0L322.05 246.8L322.95 239.1L323.05 247.1L323.95 239.0L324.05 246.1L324.95 239.9L325.05 246.6L325.95 239.2L326.05 246.6L326.95 240.1L327.05 245.3L327.95 240.6L328.05 246.8L328.95 239.2L329.05 245.2L329.95 240.2L330.05 246.2L330.95 240.0L331.05 245.2L331.95 239.4L332.05 246.2L332.95 240.4L333.05 245.9L333.95 240.3L334.05 246.2L334.95 239.5L335.05 246.0L335.95 240.4L336.05 245.6L336.95 239.6L337.05 246.2L337.95 240.4L338.05 246.5L338.95 240.1L339.05 246.6L339.95 239.6L340.05 245.1L340.95 240.4L341.05 244.9L341.95 239.6L342.05 245.3L342.95 240.8L343.05 245.8L343.95 239.6L344.05 246.0L344.95 239.7L345.05 245.9L345.95 240.2L346.05 245.6L346.95 240.2L347.05 244.9L347.95 240.9L348.05 246.5L348.95 240.8L349.05 245.3L349.95 240.3L350.05 246.0L350.95 241.0L351.05 246.1L351.95 240.2L352.05 245.0L352.95 240.6L353.05 246.3L353.95 240.0L354.05 245.1L354.95 240.2L355.05 245.0L355.95 240.5L356.05 245.3L356.95 239.6L357.05 245.6L357.95 239.7L358.05 245.6L358.95 240.0L359.05 244.8L359.95 239.9L360.05 245.7L360.95 240.6L361.05 246.1L361.95 239.8L362.05 245.1L362.95 241.2L363.05 245.8L363.95 239.9L364.05 245.0L364.95 240.4L365.05 244.9L365.95 241.1L366.05 245.5L366.95 239.9L367.05 246.1L367.95 240.2L368.05 245.8L368.95 240.9L369.05 245.5L369.95 241.0L370.05 245.1L370.95 241.0L371.05 245.4L371.95 241.2L372.05 245.0L372.95 240.2L373.05 245.6L373.95 240.9L374.05 245.1L374.95 240.3L375.05 244.8L375.95 240.1L376.05 245.9L376.95 240.0L377.05 245.0L377.95 240.1L378.05 245.5L378.95 240.9L379.05 245.9L379.95 240.9L380.05 245.0L380.95 240.0L381.05 246.1L381.95 240.3L382.05 244.9L382.95 240.6L383.05 245.5L383.95 241.0L384.05 245.9L384.95 240.7L385.05 245.4L385.95 240.6L386.05 244.7L386.95 240.1L387.05 245.9L387.95 240.1L388.05 245.5L388.95 240.7L389.05 245.1L389.95 241.1L390.05 245.0L390.95 240.6L391.05 245.2L391.95 240.3L392.05 246.0L392.95 241.0L393.05 245.8L393.95 240.9L394.05 245.2L394.95 240.9L395.05 245.5L395.95 240.8L396.05 244.8L396.95 240.6L397.05 244.8L397.95 241.0L398.05 245.2L398.95 240.2L399.05 245.7L399.95 240.6L400.05 245.3L400.95 241.0L401.05 245.3L401.95 240.8L402.05 245.3L402.95 240.7L403.05 244.9L403.95 240.9L404.05 245.1L404.95 241.3L405.05 244.7L405.95 240.4L406.05 245.0L406.95 240.5L407.05 245.7L407.95 240.6L408.05 245.2L408.95 240.3L409.05 245.3L409.95 241.4L410.05 245.6L410.95 240.8L411.05 245.2L411.95 240.5L412.05 245.4L412.95 240.2L413.05 245.4L413.95 241.2L414.05 245.4L414.95 240.5L415.05 244.6L415.95 240.6L416.05 245.4L416.95 240.6L417.05 245.1L417.95 241.0L418.05 245.3L418.95 241.2L419.05 245.6L419.95 241.2L420.05 245.3L420.95 240.6L421.05 244.9L421.95 241.3L422.05 245.7L422.95 240.2L423.05 245.4L423.95 240.4L424.05 245.1L424.95 241.1L425.05 245.2L425.95 241.4L426.05 245.3L426.95 240.4L427.05 245.0L427.95 240.2L428.05 244.7L428.95 241.1L429.05 245.3L429.95 240.7L430.05 245.7L430.95 241.4L431.05 245.6L431.95 241.4L432.05 245.6L432.95 240.6L433.05 244.6L433.95 240.3L434.05 244.9L434.95 240.8L435.05 245.8L435.95 241.0L436.05 244.6L436.95 241.2L437.05 245.5L437.95 241.3L438.05 244.9L438.95 241.2L439.05 245.1L439.95 241.3L440.05 245.8L440.95 240.3L441.05 244.7L441.95 241.3L442.05 245.2L442.95 240.2L443.05 245.5L443.95 241.3L444.05 245.6L444.95 241.4L445.05 245.2L445.95 240.5L446.05 245.1L446.95 240.7L447.05 245.4L447.95 241.2L448.05 244.7L448.95 241.1L449.05 244.6L449.95 241.3L450.05 244.6L450.95 241.0L451.05 245.4L451.95 241.2L452.05 245.1L452.95 241.3L453.05 244.8L453.95 241.0L454.05 245.7L454.95 241.2L455.05 244.7L455.95 240.4L456.05 244.9L456.95 240.9L457.05 245.1L457.95 240.9L458.05 244.6L458.95 240.6L459.05 245.7L459.95 241.3L460.05 245.7L460.95 240.5L461.05 245.3L461.95 240.6L462.05 245.1L462.95 240.7L463.05 245.7L463.95 240.5L464.05 245.2L464.95 240.3L465.05 244.5L465.95 240.9L466.05 244.6L466.95 240.7L467.05 245.4L467.95 240.8L468.05 244.7L468.95 241.4L469.05 245.5L469.95 240.8L470.05 245.2L470.95 240.6L471.05 244.7L471.95 240.7L472.05 245.2L472.95 240.3L473.05 245.4L473.95 240.3L474.05 245.6L474.95 241.0L475.05 245.4L475.95 241.2L476.05 245.0L476.95 240.6L477.05 244.9L477.95 240.9L478.05 245.3L478.95 240.2L479.05 244.7L479.95 240.4L480.05 244.8L480.95 240.2L481.05 244.8L481.95 240.6L482.05 245.3L482.95 241.5L483.05 245.2L483.95 241.1L484.05 245.3L484.95 240.8L485.05 245.5L485.95 241.1L486.05 245.2L486.95 240.8L487.05 245.7L487.95 240.4L488.05 245.8L488.95 240.9L489.05 245.6L489.95 241.4L490.05 245.1L490.95 241.4L491.05 245.0L491.95 241.1L492.05 245.1L492.95 240.6L493.05 244.5L493.95 240.8L494.05 244.7L494.95 241.0L495.05 245.6L495.95 240.7L496.05 245.1L496.95 240.4L497.05 245.5L497.95 241.4L498.05 245.1L498.95 241.0L499.05 244.6L499.95 240.4L500.05 244.9L500.95 241.4L501.05 244.8L501.95 240.5L502.05 244.8L502.95 240.9L503.05 245.1L503.95 240.8L504.05 245.5L504.95 240.6L505.05 245.3L505.95 241.2L506.05 245.3L506.95 241.1L507.05 245.4L507.95 240.6L508.05 245.7L508.95 241.4L509.05 245.5L509.95 240.5L510.05 244.9L510.95 240.7L511.05 245.6L511.95 240.6L512.05 245.7L512.95 241.1L513.05 245.6L513.95 240.4L514.05 244.8L514.95 240.9L515.05 245.1L515.95 241.5L516.05 244.6L516.95 240.5L517.05 245.6L517.95 241.2L518.05 245.2L518.95 240.4L519.05 244.6L519.95 241.1L520.05 245.5L520.95 240.8L521.05 245.7L521.95 240.7L522.05 245.4L522.95 240.7L523.05 245.5L523.95 241.2L524.05 244.7L524.95 240.4L525.05 244.8L525.95 240.4L526.05 244.8L526.95 241.2L527.05 244.6L527.95 241.3L528.05 245.7L528.95 241.1L529.05 245.7L529.95 241.4L530.05 245.0L530.95 240.7L531.05 245.7L531.95 241.3L532.05 245.0L532.95 240.9L533.05 244.9L533.95 241.4L534.05 245.0L534.95 240.7L535.05 245.1L535.95 240.9L536.05 244.7L536.95 241.2L537.05 245.1L537.95 241.4L538.05 244.9L538.95 240.4L539.05 245.6L539.95 240.4L540.05 245.1L540.95 240.4L541.05 245.2L541.95 241.4L542.05 245.1L542.95 240.3L543.05 244.9L543.95 241.1L544.05 244.6L544.95 241.1L545.05 244.6L545.95 240.3L546.05 245.1L546.95 241.2L547.05 244.9L547.95 240.8L548.05 244.7L548.95 240.6L549.05 244.9L549.95 241.0L550.05 245.7L550.95 241.0L551.05 244.9L551.95 240.6L552.05 245.6L552.95 240.7L553.05 245.1L553.95 240.4L554.05 244.7L554.95 240.4L555.05 245.3L555.95 241.3L556.05 244.7L556.95 241.3L557.05 244.8L557.95 240.7L558.05 245.3L558.95 240.8L559.05 245.0L559.95 241.3L560.05 244.6L560.95 240.9L561.05 245.3L561.95 240.6L562.05 244.8L562.95 241.4L563.05 244.8L563.95 241.4L564.05 244.7L564.95 240.8L565.05 245.3L565.95 241.2L566.05 245.7L566.95 241.4L567.05 244.8L567.95 240.4L568.05 245.3L568.95 240.9L569.05 244.9L569.95 240.7L570.05 245.1L570.95 241.3L571.05 245.2L571.95 240.3L572.05 245.6L572.95 241.3L573.05 244.7L573.95 241.4L574.05 245.2L574.95 240.6L575.05 245.6L575.95 240.7L576.05 244.9L576.95 240.3L577.05 244.5L577.95 240.8L578.05 245.3L578.95 241.0L579.05 245.5L579.95 240.5L580.05 245.1L580.95 241.0L581.05 245.5L581.95 241.5L582.05 244.5L582.95 241.5L583.05 245.0L583.95 240.9L584.05 244.9L584.95 241.1L585.05 244.9L585.95 241.4L586.05 245.6L586.95 241.1L587.05 245.1L587.95 241.4L588.05 244.6L588.95 241.4L589.05 245.4L589.95 241.4L590.05 244.8L590.95 240.9L591.05 244.6L591.95 241.0L592.05 245.0L592.95 240.6L593.05 245.3L593.95 241.3L594.05 244.6L594.95 240.4L595.05 244.5L595.95 240.5L596.05 244.9L596.95 240.6L597.05 245.5L597.95 240.8L598.05 245.0L598.95 241.0L599.05 244.5L599.95 240.4L600.05 245.6L600.95 241.5L601.05 245.6L601.95 241.3L602.05 244.5L602.95 240.4L603.05 244.7L603.95 241.2L604.05 245.4L604.95 240.7L605.05 244.8" stroke="#0072bd" stroke-width="0.6" stroke-linejoin="bevel" fill="none"/>
<path d="M72.55 54V442M73.6 153V299M75.55 178V294" stroke="#0072bd" stroke-width="0.8" fill="none"/>
<text class="tk" x="61.70" y="479" text-anchor="middle">39</text>
<text class="tk" x="129.70" y="479" text-anchor="middle">39.5</text>
<text class="tk" x="197.70" y="479" text-anchor="middle">40</text>
<text class="tk" x="265.70" y="479" text-anchor="middle">40.5</text>
<text class="tk" x="333.70" y="479" text-anchor="middle">41</text>
<text class="tk" x="401.70" y="479" text-anchor="middle">41.5</text>
<text class="tk" x="469.70" y="479" text-anchor="middle">42</text>
<text class="tk" x="537.70" y="479" text-anchor="middle">42.5</text>
<text class="tk" x="605.70" y="479" text-anchor="middle">43</text>
<text class="tk" x="55.6" y="35" text-anchor="end">1</text>
<text class="tk" x="55.6" y="78" text-anchor="end">0.8</text>
<text class="tk" x="55.6" y="121" text-anchor="end">0.6</text>
<text class="tk" x="55.6" y="163" text-anchor="end">0.4</text>
<text class="tk" x="55.6" y="206" text-anchor="end">0.2</text>
<text class="tk" x="55.6" y="249" text-anchor="end">0</text>
<text class="tk" x="55.6" y="292" text-anchor="end">-0.2</text>
<text class="tk" x="55.6" y="335" text-anchor="end">-0.4</text>
<text class="tk" x="55.6" y="377" text-anchor="end">-0.6</text>
<text class="tk" x="55.6" y="420" text-anchor="end">-0.8</text>
<text class="tk" x="55.6" y="463" text-anchor="end">-1</text>
<text class="tt" x="333.5" y="22.5" text-anchor="middle">Tunnel Response</text>
<text class="lb" x="333.5" y="502" text-anchor="middle">Time (sec)</text>
<text class="lb" transform="translate(20.5 243) rotate(-90)" text-anchor="middle">Unscaled Sound Pressure</text>
</svg>
</body></html>
